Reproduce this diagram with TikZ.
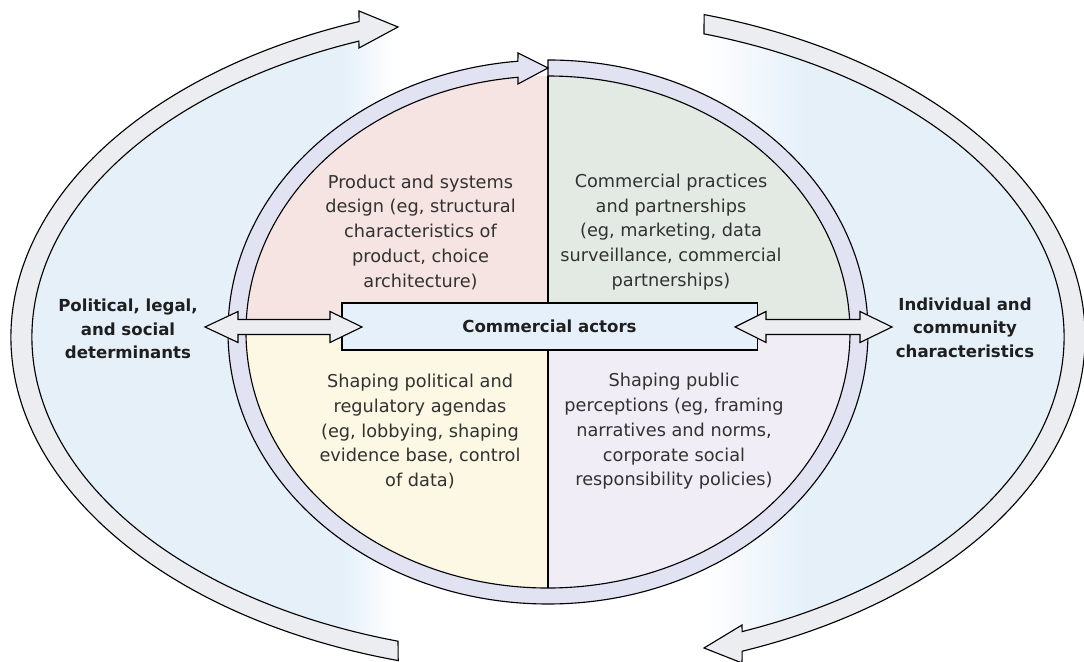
\documentclass[tikz,border=0pt]{standalone}
\usepackage{fontspec}
\setmainfont{DejaVu Sans}

\definecolor{bgblue}{RGB}{229,240,249}
\definecolor{bandgray}{RGB}{236,237,240}
\definecolor{ringlav}{RGB}{225,226,242}
\definecolor{qpink}{RGB}{246,228,226}
\definecolor{qgreen}{RGB}{227,234,228}
\definecolor{qyellow}{RGB}{253,248,228}
\definecolor{qlav}{RGB}{241,237,246}
\definecolor{boxblue}{RGB}{230,240,250}
\definecolor{textgray}{RGB}{50,50,50}

\pgfdeclarehorizontalshading{sidefade}{100bp}{color(0bp)=(bgblue); color(40bp)=(bgblue); color(42.5bp)=(white); color(57.5bp)=(white); color(62.5bp)=(bgblue); color(100bp)=(bgblue)}

\begin{document}
\begin{tikzpicture}[x=0.025cm, y=0.025cm, line width=0.8pt,
    band/.style={draw=black, fill=bandgray},
    ringband/.style={draw=black, fill=ringlav},
    txt/.style={align=center, text=textgray, font=\fontsize{12.6}{17.6}\selectfont},
    lbl/.style={align=center, text=black!88, font=\bfseries\fontsize{11.8}{16.8}\selectfont}]
\useasboundingbox (0,0) rectangle (1084,662);
\clip (0,0) rectangle (1084,662);

% light blue field inside the outer arrows
\shade[shading=sidefade] (548,325) ellipse [x radius=516, y radius=318];

% outer arrows
\draw[band] (398.2,1.4) arc[start angle=253.8, end angle=110.6, x radius=537, y radius=337]
    -- (359,651) -- (398,635) -- (359,614) -- (358.9,620.9)
    arc[start angle=111.5, end angle=253.1, x radius=516, y radius=318] -- cycle;
\draw[band] (704.1,647.4) arc[start angle=73.1, end angle=-68.8, x radius=537, y radius=337]
    -- (742,-1) -- (704,14) -- (742,37) -- (742.1,30.4)
    arc[start angle=-67.9, end angle=72.4, x radius=516, y radius=318] -- cycle;

% quadrants
\begin{scope}
\clip (548,330) ellipse [x radius=302, y radius=256];
\fill[qpink] (200,335) rectangle (548,600);
\fill[qgreen] (548,335) rectangle (900,600);
\fill[qyellow] (200,335) rectangle (548,60);
\fill[qlav] (548,335) rectangle (900,60);
\end{scope}
\draw (548,586) -- (548,74);

% ring arrow
\draw[ringband] (548,602) arc[start angle=90, end angle=-264.6, x radius=320, y radius=272]
    -- (518,609) -- (548,594) -- (518,578) -- (518,584.7)
    arc[start angle=-264.3, end angle=90, x radius=302, y radius=256] -- cycle;

% centre box
\node[draw, fill=boxblue, minimum width=10.375cm, minimum height=1.175cm, inner sep=0pt,
    font=\bfseries\fontsize{11.8}{14}\selectfont, text=black!88] (A) at (549.5,335.5) {Commercial actors};

% double arrows
\draw[band] (205,335) -- (238,350.5) -- (238,342.5) -- (330,342.5) -- (330,350.5) -- (362,335)
    -- (330,319.5) -- (330,327.5) -- (238,327.5) -- (238,319.5) -- cycle;
\draw[band] (735,335) -- (766,350.5) -- (766,342.5) -- (860,342.5) -- (860,350.5) -- (892,335)
    -- (860,319.5) -- (860,327.5) -- (766,327.5) -- (766,319.5) -- cycle;

% texts
\node[txt] (Q1) at (420.5,430) {Product and systems\\design (eg, structural\\characteristics of\\product, choice\\architecture)};
\node[txt] (Q2) at (671,430) {Commercial practices\\and partnerships\\(eg, marketing, data\\surveillance, commercial\\partnerships)};
\node[txt] (Q3) at (420,230.5) {Shaping political and\\regulatory agendas\\(eg, lobbying, shaping\\evidence base, control\\of data)};
\node[txt] (Q4) at (674,230.5) {Shaping public\\perceptions (eg, framing\\narratives and norms,\\corporate social\\responsibility policies)};
\node[lbl] (L) at (128,333) {Political, legal,\\and social\\determinants};
\node[lbl] (R) at (965,334.5) {Individual and\\community\\characteristics};
\end{tikzpicture}
\end{document}
